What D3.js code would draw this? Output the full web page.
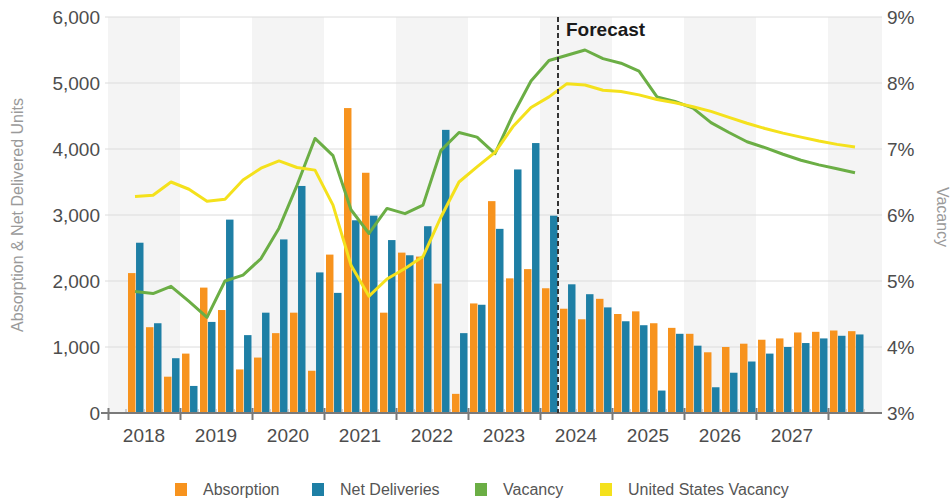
<!DOCTYPE html>
<html>
<head>
<meta charset="utf-8">
<script src="https://cdn.jsdelivr.net/npm/d3@7/dist/d3.min.js"></script>
<style>
  html, body { margin: 0; padding: 0; background: #fff; }
  svg { display: block; font-family: "Liberation Sans", Arial, Helvetica, sans-serif; }
</style>
</head>
<body>
<svg id="chart" width="951" height="498"></svg>
<script>
// Quarterly periods shown on the chart (2018 Q2 – 2028 Q2)
const quarters = [
  "2018 Q2","2018 Q3","2018 Q4",
  "2019 Q1","2019 Q2","2019 Q3","2019 Q4",
  "2020 Q1","2020 Q2","2020 Q3","2020 Q4",
  "2021 Q1","2021 Q2","2021 Q3","2021 Q4",
  "2022 Q1","2022 Q2","2022 Q3","2022 Q4",
  "2023 Q1","2023 Q2","2023 Q3","2023 Q4",
  "2024 Q1","2024 Q2","2024 Q3","2024 Q4",
  "2025 Q1","2025 Q2","2025 Q3","2025 Q4",
  "2026 Q1","2026 Q2","2026 Q3","2026 Q4",
  "2027 Q1","2027 Q2","2027 Q3","2027 Q4",
  "2028 Q1","2028 Q2"
];

// Units absorbed per quarter
const absorption = [
  2120, 1300, 550,
  900, 1900, 1560, 660,
  840, 1210, 1520, 640,
  2400, 4620, 3640, 1520,
  2430, 2370, 1960, 290,
  1660, 3210, 2040, 2180,
  1890, 1580, 1420, 1730,
  1500, 1540, 1360, 1290,
  1200, 920, 1000, 1050,
  1110, 1130, 1220, 1230,
  1250, 1240
];

// Net delivered units per quarter
const netDeliveries = [
  2580, 1360, 830,
  410, 1380, 2930, 1180,
  1520, 2630, 3440, 2130,
  1820, 2920, 2990, 2620,
  2390, 2830, 4290, 1210,
  1640, 2790, 3690, 4090,
  2990, 1950, 1800, 1600,
  1390, 1330, 340, 1200,
  1020, 390, 610, 780,
  900, 1000, 1060, 1130,
  1170, 1190
];

// Market vacancy rate (%)
const vacancy = [
  4.84, 4.81, 4.92,
  4.69, 4.45, 5.00, 5.09,
  5.34, 5.80, 6.45, 7.16,
  6.90, 6.08, 5.72, 6.10,
  6.02, 6.15, 6.98, 7.25,
  7.18, 6.93, 7.52, 8.03,
  8.34, 8.42, 8.50, 8.37,
  8.30, 8.18, 7.79, 7.72,
  7.62, 7.40, 7.25, 7.11,
  7.02, 6.92, 6.83, 6.76,
  6.70, 6.64
];

// National vacancy rate (%)
const usVacancy = [
  6.28, 6.30, 6.50,
  6.39, 6.21, 6.24, 6.53,
  6.71, 6.82, 6.72, 6.68,
  6.15, 5.24, 4.77, 5.03,
  5.19, 5.37, 5.97, 6.50,
  6.73, 6.95, 7.34, 7.63,
  7.79, 7.99, 7.97, 7.89,
  7.87, 7.82, 7.75, 7.70,
  7.64, 7.57, 7.48, 7.39,
  7.31, 7.24, 7.18, 7.12,
  7.07, 7.03
];

const years = [2018, 2019, 2020, 2021, 2022, 2023, 2024, 2025, 2026, 2027];
const unitTicks = [0, 1000, 2000, 3000, 4000, 5000, 6000];
const pctTicks = [3, 4, 5, 6, 7, 8, 9];
const forecastStart = "2024 Q2";

const colors = {
  absorption: "#F7931E",
  deliveries: "#1E7FA5",
  vacancy: "#6BAE45",
  us: "#F4E11C"
};

// ---- layout ----
const svg = d3.select("#chart");
const plot = { left: 108, right: 882, top: 17, bottom: 413 };

// time expressed as fractional year: quarter start
const qTime = q => {
  const [y, qq] = q.split(" Q");
  return +y + (+qq - 1) / 4;
};

const x = d3.scaleLinear().domain([2018, 2028.75]).range([plot.left, plot.right]);
const qWidth = x(2018.25) - x(2018);
const yUnits = d3.scaleLinear().domain([0, 6000]).range([plot.bottom, plot.top]);
const yPct = d3.scaleLinear().domain([3, 9]).range([plot.bottom, plot.top]);

// inner band for the two bars in each quarter
const sub = d3.scaleBand().domain(["abs", "del"]).range([2, qWidth - 0.5]).paddingInner(0.07);

// alternating year shading
const bandYears = years.concat([2028]);
svg.append("g").selectAll("rect")
  .data(bandYears.filter((d, i) => i % 2 === 0))
  .join("rect")
  .attr("x", d => x(d))
  .attr("y", plot.top)
  .attr("width", d => Math.min(x(d + 1), plot.right) - x(d))
  .attr("height", plot.bottom - plot.top)
  .attr("fill", "#f4f4f4");

// horizontal gridlines
svg.append("g").selectAll("line")
  .data(unitTicks.filter(d => d > 0))
  .join("line")
  .attr("x1", plot.left - 3).attr("x2", plot.right)
  .attr("y1", d => yUnits(d)).attr("y2", d => yUnits(d))
  .attr("stroke", "#dcdcdc").attr("stroke-width", 1);

// bars
const barData = quarters.map((q, i) => ({ q, t: qTime(q), abs: absorption[i], del: netDeliveries[i] }));
const barG = svg.append("g");
barG.selectAll("rect.abs")
  .data(barData).join("rect").attr("class", "abs")
  .attr("x", d => x(d.t) + sub("abs"))
  .attr("width", sub.bandwidth())
  .attr("y", d => yUnits(d.abs))
  .attr("height", d => yUnits(0) - yUnits(d.abs))
  .attr("fill", colors.absorption);
barG.selectAll("rect.del")
  .data(barData).join("rect").attr("class", "del")
  .attr("x", d => x(d.t) + sub("del"))
  .attr("width", sub.bandwidth())
  .attr("y", d => yUnits(d.del))
  .attr("height", d => yUnits(0) - yUnits(d.del))
  .attr("fill", colors.deliveries);

// vacancy lines at quarter centres
const lineFor = arr => d3.line()
  .x((d, i) => x(qTime(quarters[i])) + qWidth / 2)
  .y(d => yPct(d))(arr);

svg.append("path").attr("d", lineFor(vacancy))
  .attr("fill", "none").attr("stroke", colors.vacancy)
  .attr("stroke-width", 3).attr("stroke-linejoin", "round");
svg.append("path").attr("d", lineFor(usVacancy))
  .attr("fill", "none").attr("stroke", colors.us)
  .attr("stroke-width", 3).attr("stroke-linejoin", "round");

// bottom axis
const xAxisG = svg.append("g").attr("transform", `translate(0,${plot.bottom})`);
// minor quarter ticks
const minorTicks = d3.range(2018.25, 2028.75, 0.25).filter(t => Math.abs(t - Math.round(t)) > 0.01);
xAxisG.selectAll("line.minor").data(minorTicks).join("line").attr("class", "minor")
  .attr("x1", d => x(d)).attr("x2", d => x(d))
  .attr("y1", -4).attr("y2", 0)
  .attr("stroke", "#aaa").attr("stroke-width", 1);
xAxisG.append("line")
  .attr("x1", plot.left - 7).attr("x2", plot.right)
  .attr("y1", 0).attr("y2", 0)
  .attr("stroke", "#7a7a7a").attr("stroke-width", 2);
const xAxis = d3.axisBottom(x).tickValues(bandYears).tickFormat("").tickSizeInner(7).tickSizeOuter(0);
const xa = svg.append("g").attr("transform", `translate(0,${plot.bottom - 5})`).call(xAxis);
xa.select(".domain").remove();
xa.selectAll(".tick line").attr("stroke", "#7a7a7a").attr("stroke-width", 2).attr("y2", 12);

svg.append("g").selectAll("text")
  .data(years).join("text")
  .attr("x", d => x(d + 0.5))
  .attr("y", 442)
  .attr("text-anchor", "middle")
  .attr("font-size", 19)
  .attr("fill", "#4d4d4d")
  .text(d => d);

// left axis
const la = svg.append("g").attr("transform", `translate(${plot.left - 8},0)`)
  .call(d3.axisLeft(yUnits).tickValues(unitTicks).tickFormat(d3.format(",")).tickSize(0).tickPadding(0));
la.select(".domain").remove();
la.selectAll("text").attr("font-size", 19).attr("fill", "#4d4d4d")
  .attr("font-family", "Liberation Sans, Arial, sans-serif");

// right axis
const ra = svg.append("g").attr("transform", `translate(${plot.right + 5},0)`)
  .call(d3.axisRight(yPct).tickValues(pctTicks).tickFormat(d => d + "%").tickSize(0).tickPadding(0));
ra.select(".domain").remove();
ra.selectAll("text").attr("font-size", 19).attr("fill", "#4d4d4d")
  .attr("font-family", "Liberation Sans, Arial, sans-serif");

// axis titles
svg.append("text")
  .attr("transform", "translate(23,215) rotate(-90)")
  .attr("text-anchor", "middle")
  .attr("font-size", 16)
  .attr("fill", "#9a9a9a")
  .text("Absorption & Net Delivered Units");
svg.append("text")
  .attr("transform", "translate(937,217) rotate(90)")
  .attr("text-anchor", "middle")
  .attr("font-size", 16)
  .attr("fill", "#9a9a9a")
  .text("Vacancy");

// forecast divider
const fx = x(qTime(forecastStart));
svg.append("line")
  .attr("x1", fx).attr("x2", fx)
  .attr("y1", plot.top).attr("y2", plot.bottom)
  .attr("stroke", "#333").attr("stroke-width", 2)
  .attr("stroke-dasharray", "5,3");
svg.append("text")
  .attr("x", fx + 8).attr("y", 36)
  .attr("font-size", 19).attr("font-weight", "bold")
  .attr("fill", "#1a1a1a")
  .text("Forecast");

// legend
const legendItems = [
  { label: "Absorption", color: colors.absorption, x: 175 },
  { label: "Net Deliveries", color: colors.deliveries, x: 312 },
  { label: "Vacancy", color: colors.vacancy, x: 475 },
  { label: "United States Vacancy", color: colors.us, x: 600 }
];
const lg = svg.append("g").selectAll("g").data(legendItems).join("g");
lg.append("rect")
  .attr("x", d => d.x).attr("y", 483)
  .attr("width", 12).attr("height", 13)
  .attr("fill", d => d.color);
lg.append("text")
  .attr("x", d => d.x + 28).attr("y", 495)
  .attr("font-size", 16)
  .attr("fill", "#555")
  .text(d => d.label);
</script>
</body>
</html>
